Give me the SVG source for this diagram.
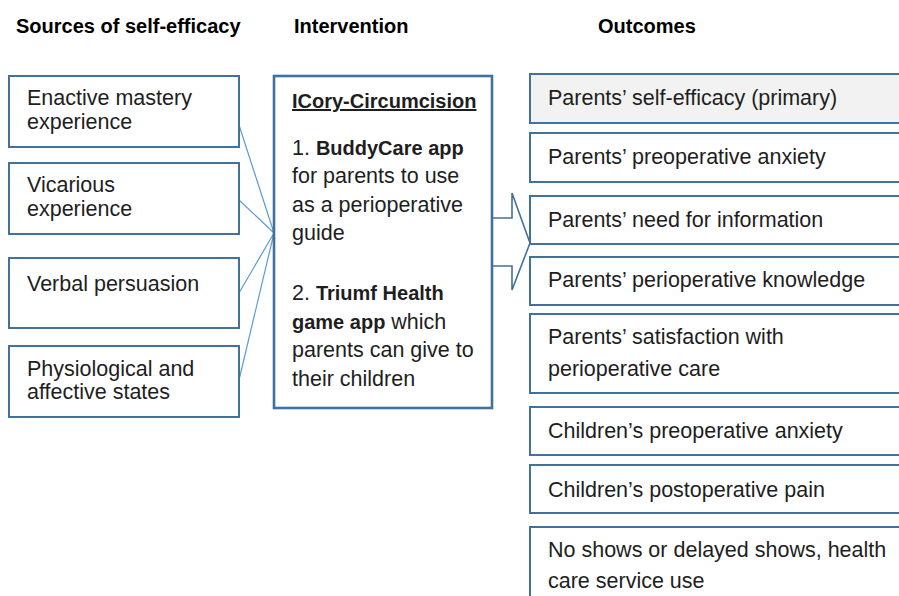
<svg xmlns="http://www.w3.org/2000/svg" width="899" height="596" viewBox="0 0 899 596">
  <style>
    text { font-family: "Liberation Sans", Arial, sans-serif; font-size: 21.5px; fill: #1e1e1e; }
    .head { font-weight: bold; font-size: 20px; fill: #000; }
    .box { fill: #fff; stroke: #41719c; stroke-width: 2; }
    .main { fill: #fff; stroke: #41719c; stroke-width: 2.6; }
    .prim { fill: #f2f2f2; stroke: #41719c; stroke-width: 2; }
    .link { stroke: #5b9bd5; stroke-width: 1.2; fill: none; }
    .arrow { fill: #fff; stroke: #41719c; stroke-width: 1.6; }
    .b { font-weight: bold; font-size: 20px; }
  </style>

  <!-- column headings -->
  <text class="head" x="16" y="33">Sources of self-efficacy</text>
  <text class="head" x="294" y="33">Intervention</text>
  <text class="head" x="598" y="33">Outcomes</text>

  <!-- connectors -->
  <g id="connectors">
    <path class="link" d="M239 125 L274 233 M239 200 L274 233 M239 293 L274 233 M239 380 L274 233"/>
    <path class="arrow" d="M492 218 H512 V193 L530 243 L512 290 V266 H492"/>
  </g>

  <!-- sources -->
  <g id="src-mastery">
    <rect class="box" x="9" y="76" width="230" height="71"/>
    <text x="27" y="105">Enactive mastery</text>
    <text x="27" y="129">experience</text>
  </g>
  <g id="src-vicarious">
    <rect class="box" x="9" y="163" width="230" height="71"/>
    <text x="27" y="192">Vicarious</text>
    <text x="27" y="216">experience</text>
  </g>
  <g id="src-verbal">
    <rect class="box" x="9" y="258" width="230" height="70"/>
    <text x="27" y="291">Verbal persuasion</text>
  </g>
  <g id="src-physio">
    <rect class="box" x="9" y="346" width="230" height="71"/>
    <text x="27" y="376">Physiological and</text>
    <text x="27" y="399">affective states</text>
  </g>

  <!-- intervention -->
  <g id="intervention">
    <rect class="main" x="274" y="76" width="218" height="332"/>
    <text x="292" y="108" class="b" text-decoration="underline">ICory-Circumcision</text>
    <text x="292" y="155">1. <tspan class="b">BuddyCare app</tspan></text>
    <text x="292" y="183">for parents to use</text>
    <text x="292" y="212">as a perioperative</text>
    <text x="292" y="240">guide</text>
    <text x="292" y="300">2. <tspan class="b">Triumf Health</tspan></text>
    <text x="292" y="329"><tspan class="b">game app</tspan> which</text>
    <text x="292" y="357">parents can give to</text>
    <text x="292" y="386">their children</text>
  </g>

  <!-- outcomes -->
  <g id="out-selfefficacy">
    <rect class="prim" x="530" y="74" width="380" height="49"/>
    <text x="548" y="105">Parents’ self-efficacy (primary)</text>
  </g>
  <g id="out-parent-anxiety">
    <rect class="box" x="530" y="133" width="380" height="49"/>
    <text x="548" y="164">Parents’ preoperative anxiety</text>
  </g>
  <g id="out-information">
    <rect class="box" x="530" y="196" width="380" height="48"/>
    <text x="548" y="227">Parents’ need for information</text>
  </g>
  <g id="out-knowledge">
    <rect class="box" x="530" y="257" width="380" height="48"/>
    <text x="548" y="287">Parents’ perioperative knowledge</text>
  </g>
  <g id="out-satisfaction">
    <rect class="box" x="530" y="314" width="380" height="79"/>
    <text x="548" y="344">Parents’ satisfaction with</text>
    <text x="548" y="376">perioperative care</text>
  </g>
  <g id="out-child-anxiety">
    <rect class="box" x="530" y="407" width="380" height="48"/>
    <text x="548" y="438">Children’s preoperative anxiety</text>
  </g>
  <g id="out-child-pain">
    <rect class="box" x="530" y="465" width="380" height="48"/>
    <text x="548" y="497">Children’s postoperative pain</text>
  </g>
  <g id="out-service-use">
    <rect class="box" x="530" y="527" width="380" height="90"/>
    <text x="548" y="557">No shows or delayed shows, health</text>
    <text x="548" y="588">care service use</text>
  </g>
</svg>
